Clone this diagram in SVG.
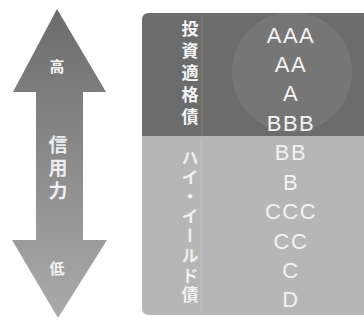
<svg xmlns="http://www.w3.org/2000/svg" width="364" height="320" viewBox="0 0 364 320">
<defs>
<linearGradient id="arrowGrad" x1="0" y1="0" x2="0" y2="1">
<stop offset="0" stop-color="#6c6c6c"/>
<stop offset="0.5" stop-color="#8b8b8b"/>
<stop offset="1" stop-color="#ababab"/>
</linearGradient>
<clipPath id="darkClip"><path d="M149,13 H364 V136 H142 V20 Q142,13 149,13 Z"/></clipPath>
</defs>
<style>
.jp{font-family:"Noto Sans CJK JP","Noto Sans",sans-serif;fill:#f5f5f5;text-anchor:middle;font-weight:bold}
.vt{font-family:"Noto Sans CJK JP","Noto Sans",sans-serif;font-weight:bold;writing-mode:vertical-rl}
.rt{font-family:"Liberation Sans","Noto Sans",sans-serif;font-size:22px;text-anchor:middle;letter-spacing:1.5px}
.dk{fill:#f4f4f4}
.lt{fill:#f2f2f2}
</style>
<rect width="364" height="320" fill="#ffffff"/>
<g id="arrow">
<path d="M57,9 L106,92 L83,92 L83,240 L107,240 L58,318 L12,240 L36,240 L36,92 L13,92 Z" fill="url(#arrowGrad)"/>
<text class="jp" x="57" y="72" font-size="15">高</text>
<text class="vt" x="58" y="135" font-size="19" letter-spacing="4" fill="#eeeeee">信用力</text>
<text class="jp" x="57" y="274" font-size="15">低</text>
</g>
<g id="investment-grade">
<path d="M149,13 H364 V136 H142 V20 Q142,13 149,13 Z" fill="#6c6c6c"/>
<circle cx="292" cy="72" r="60" fill="#767676" clip-path="url(#darkClip)"/>
<line x1="202" y1="16" x2="202" y2="136" stroke="#7a7a7a" stroke-width="1"/>
<text class="vt" x="190" y="20" font-size="17" letter-spacing="5" fill="#f5f5f5">投資適格債</text>
<text class="rt dk" x="291" y="43">AAA</text>
<text class="rt dk" x="291" y="72">AA</text>
<text class="rt dk" x="291" y="101">A</text>
<text class="rt dk" x="291" y="131">BBB</text>
</g>
<g id="high-yield">
<path d="M142,136 H364 V315 H149 Q142,315 142,308 Z" fill="#b6b6b6"/>
<line x1="201" y1="138" x2="201" y2="312" stroke="#c2c2c2" stroke-width="1"/>
<text class="vt" x="190" y="149" font-size="17" letter-spacing="2.6" fill="#f0f0f0">ハイ・イールド債</text>
<text class="rt lt" x="291" y="160">BB</text>
<text class="rt lt" x="291" y="190">B</text>
<text class="rt lt" x="291" y="219">CCC</text>
<text class="rt lt" x="291" y="249">CC</text>
<text class="rt lt" x="291" y="278">C</text>
<text class="rt lt" x="291" y="307">D</text>
</g>
</svg>
